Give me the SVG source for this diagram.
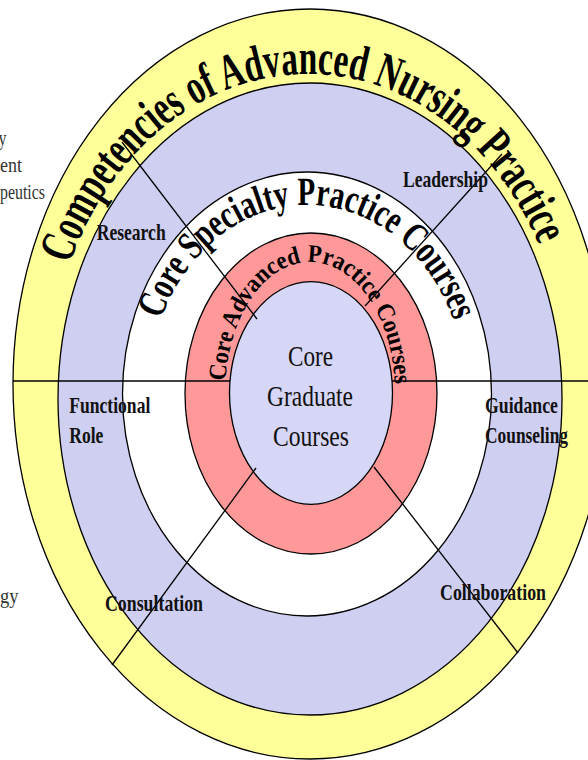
<svg xmlns="http://www.w3.org/2000/svg" width="588" height="760" viewBox="0 0 588 760">
<style>
.ring{stroke:#000;stroke-width:1.3}
.ln{stroke:#000;stroke-width:1.3;fill:none}
.arc{font-family:"Liberation Serif","Times New Roman",serif;font-weight:bold;fill:#000}
.lbl{font-family:"Liberation Serif","Times New Roman",serif;font-weight:bold;font-size:23px;fill:#111}
.core{font-family:"Liberation Serif","Times New Roman",serif;font-size:30px;fill:#111;text-anchor:middle}
.side{font-family:"Liberation Serif","Times New Roman",serif;font-size:20px;fill:#333}
</style>
<defs>
<path id="p1" d="M 48 390 A 260 316 0 0 1 568 390"/>
<path id="p2" d="M 148 394 A 159 189 0 0 1 466 394"/>
<path id="p3" d="M 225 393 A 85 131 0 0 1 395 393"/>
</defs>
<rect width="588" height="760" fill="#fff"/>
<g id="ring-competencies">
<ellipse class="ring" cx="310" cy="384" rx="297" ry="375" fill="#FFFF99"/>
</g>
<g id="ring-roles">
<ellipse class="ring" cx="310" cy="399" rx="252" ry="316" fill="#CFCFF1"/>
</g>
<g id="ring-specialty">
<ellipse class="ring" cx="307" cy="394" rx="184.5" ry="222" fill="#FFFFFF"/>
</g>
<g id="ring-advanced">
<ellipse class="ring" cx="311" cy="393.5" rx="126" ry="160.5" fill="#FF9999"/>
</g>
<g id="core-graduate">
<ellipse class="ring" cx="311" cy="393" rx="81.5" ry="111.3" fill="#D6D6F6"/>
<text class="core" x="310.5" y="366" textLength="45" lengthAdjust="spacingAndGlyphs">Core</text>
<text class="core" x="310" y="406" textLength="86" lengthAdjust="spacingAndGlyphs">Graduate</text>
<text class="core" x="311" y="446" textLength="76" lengthAdjust="spacingAndGlyphs">Courses</text>
</g>
<g id="connectors">
<line class="ln" x1="122" y1="142" x2="257" y2="319"/>
<line class="ln" x1="502" y1="154" x2="365" y2="306"/>
<line class="ln" x1="256" y1="468" x2="112" y2="665"/>
<line class="ln" x1="374" y1="467" x2="518" y2="653"/>
<line class="ln" x1="13" y1="381" x2="230" y2="381"/>
<line class="ln" x1="392" y1="381" x2="588" y2="381"/>
</g>
<g id="arc-labels">
<text class="arc" font-size="50"><textPath href="#p1" startOffset="128" textLength="630" lengthAdjust="spacingAndGlyphs">Competencies of Advanced Nursing Practice</textPath></text>
<text class="arc" font-size="40"><textPath href="#p2" startOffset="76" textLength="397" lengthAdjust="spacingAndGlyphs">Core Specialty Practice Courses</textPath></text>
<text class="arc" font-size="25"><textPath href="#p3" startOffset="12" textLength="322" lengthAdjust="spacingAndGlyphs">Core Advanced Practice Courses</textPath></text>
</g>
<g id="role-labels">
<text class="lbl" x="96.7" y="240" textLength="69" lengthAdjust="spacingAndGlyphs">Research</text>
<text class="lbl" x="403" y="187" textLength="85" lengthAdjust="spacingAndGlyphs">Leadership</text>
<text class="lbl" x="69.3" y="413" textLength="81" lengthAdjust="spacingAndGlyphs">Functional</text>
<text class="lbl" x="69.3" y="443" textLength="34" lengthAdjust="spacingAndGlyphs">Role</text>
<text class="lbl" x="485" y="413" textLength="73" lengthAdjust="spacingAndGlyphs">Guidance</text>
<text class="lbl" x="485" y="443" textLength="83" lengthAdjust="spacingAndGlyphs">Counseling</text>
<text class="lbl" x="105" y="611" textLength="98" lengthAdjust="spacingAndGlyphs">Consultation</text>
<text class="lbl" x="440" y="600" textLength="106" lengthAdjust="spacingAndGlyphs">Collaboration</text>
</g>
<g id="side-text">
<text class="side" x="-1.5" y="145" textLength="8" lengthAdjust="spacingAndGlyphs">y</text>
<text class="side" x="0" y="172" textLength="22" lengthAdjust="spacingAndGlyphs">ent</text>
<text class="side" x="0" y="199" textLength="45" lengthAdjust="spacingAndGlyphs">peutics</text>
<text class="side" x="0" y="603" textLength="18.5" lengthAdjust="spacingAndGlyphs">gy</text>
</g>
</svg>
